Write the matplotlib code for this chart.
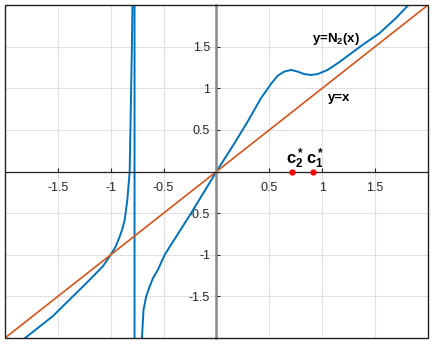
import matplotlib
matplotlib.use('Agg')
import matplotlib.pyplot as plt
from matplotlib.patches import Rectangle

plt.rcParams['font.family'] = ['Liberation Sans', 'DejaVu Sans']
plt.rcParams['mathtext.fontset'] = 'custom'
plt.rcParams['mathtext.rm'] = 'Liberation Sans:bold'
plt.rcParams['mathtext.it'] = 'Liberation Sans:bold'
plt.rcParams['mathtext.bf'] = 'Liberation Sans:bold'

# y = N_2(x) (one polyline, jumps across the pole)
n2_x = [-1.85, -1.81, -1.55, -1.39, -1.23, -1.075, -1.0, -0.953, -0.915, -0.89,
        -0.868, -0.843, -0.821, -0.814, -0.807, -0.80, -0.795, -0.776,
        -0.774, -0.705, -0.69, -0.665, -0.632, -0.60, -0.554, -0.49, -0.38,
        -0.24, -0.12, 0.0,
        0.17, 0.295, 0.42, 0.47, 0.52, 0.578, 0.64, 0.705, 0.767, 0.83, 0.893,
        0.956, 1.05, 1.145, 1.21, 1.38, 1.54, 1.695, 1.815, 1.86]
n2_y = [-2.04, -2.0, -1.74, -1.54, -1.34, -1.14, -1.0, -0.90, -0.78, -0.69,
        -0.58, -0.34, 0.0, 0.5, 1.0, 1.5, 2.0, 40.0,
        -40.0, -2.0, -1.66, -1.50, -1.38, -1.28, -1.18, -1.0, -0.78,
        -0.5, -0.25, 0.0,
        0.34, 0.60, 0.88, 0.97, 1.06, 1.15, 1.20, 1.22, 1.20, 1.17, 1.16,
        1.17, 1.22, 1.30, 1.36, 1.52, 1.66, 1.84, 2.0, 2.05]

diag_x = [-2, 2]
diag_y = [-2, 2]

fixed_x = [0.71, 0.91]
fixed_y = [0, 0]

ticks = [-1.5, -1, -0.5, 0, 0.5, 1, 1.5]
tick_labels = ['-1.5', '-1', '-0.5', '', '0.5', '1', '1.5']

fig = plt.figure(figsize=(4.35, 3.45), dpi=100)
ax = fig.add_axes([5/435, 7/345, 423/435, 333/345])

ax.plot(n2_x, n2_y, color='#0072BD', lw=1.4)
ax.plot(diag_x, diag_y, color='#D95319', lw=1.2)
ax.plot(fixed_x, fixed_y, 'o', color='red', ms=3.5, clip_on=False, zorder=5)

ax.set_xlim(-2, 2)
ax.set_ylim(-2, 2)
ax.set_xticks(ticks)
ax.set_xticklabels(tick_labels)
ax.set_yticks(ticks)
ax.set_yticklabels(tick_labels)

ax.grid(True, color='#e0e0e0', lw=0.8)
ax.set_axisbelow(True)

ax.spines['left'].set_position(('data', 0))
ax.spines['left'].set_color('#8a8a8a')
ax.spines['left'].set_linewidth(1.8)
ax.spines['bottom'].set_position(('data', 0))
ax.spines['bottom'].set_color('#222222')
ax.spines['bottom'].set_linewidth(0.9)
ax.spines['top'].set_visible(False)
ax.spines['right'].set_visible(False)
ax.add_patch(Rectangle((0, 0), 1, 1, transform=ax.transAxes, fill=False,
                       edgecolor='#222222', lw=1.0, clip_on=False, zorder=6))

ax.tick_params(axis='x', direction='in', length=3, pad=7.5, labelsize=9,
               colors='#262626')
ax.tick_params(axis='y', direction='in', length=3, pad=4.5, labelsize=9,
               colors='#262626')

ax.text(0.905, 1.55, 'y=N$_2$(x)', fontsize=9.5, fontweight='bold')
ax.text(1.05, 0.85, 'y=x', fontsize=9.5, fontweight='bold')
ax.text(0.655, 0.09, 'c$_2^*$', fontsize=12, fontweight='bold')
ax.text(0.845, 0.09, 'c$_1^*$', fontsize=12, fontweight='bold')

fig.savefig('out.png', dpi=100)
